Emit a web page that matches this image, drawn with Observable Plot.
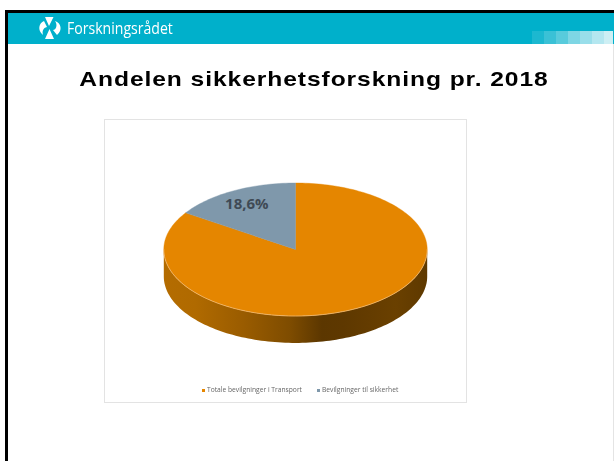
<!DOCTYPE html>
<html lang="no">
<head>
<meta charset="utf-8">
<script src="https://cdn.jsdelivr.net/npm/d3@7"></script>
<script src="https://cdn.jsdelivr.net/npm/@observablehq/plot@0.6"></script>
<style>
html,body{margin:0;padding:0;background:#fff;overflow:hidden}
#page{position:relative;width:614px;height:461px;overflow:hidden;background:#fff}
#frameTop{position:absolute;left:5px;top:10px;right:0;height:3px;background:#000}
#frameLeft{position:absolute;left:5px;top:10px;width:2.5px;bottom:0;background:#000}
#frameRight{position:absolute;left:613px;top:44px;width:1px;bottom:0;background:#e4e4e4}
#band{position:absolute;left:7.5px;top:13px;right:0;height:31px;background:#00B0CB}
.sq{position:absolute;top:31px;height:13px;width:12px}
#brand{position:absolute;left:67px;top:17px;font:15.5px/22px "Open Sans",sans-serif;color:#fff;transform-origin:0 50%;transform:scaleX(.908);white-space:nowrap}
#logo{position:absolute;left:38px;top:17px;overflow:visible}
#title{position:absolute;left:13.5px;width:600px;top:64px;text-align:center;font:bold 20.5px/30px "Liberation Sans",Arial,sans-serif;letter-spacing:.77px;color:#000;white-space:nowrap;transform:scaleX(1.2);transform-origin:50% 50%}
#card{position:absolute;left:104px;top:119px;width:361px;height:282px;border:1px solid #e3e3e3;box-sizing:content-box}
#chart{position:absolute;left:0;top:0}
.leg{position:absolute;top:386px;font:6.7px/8px "Open Sans",sans-serif;color:#666;white-space:nowrap;filter:blur(.25px)}
.mk{position:absolute;top:389px;width:2.5px;height:2.5px}
</style>
</head>
<body>
<div id="page">
  <div id="frameTop"></div><div id="frameLeft"></div><div id="frameRight"></div><div id="band"></div>
  <div class="sq" style="left:532px;background:#1CB8D0"></div>
  <div class="sq" style="left:544px;background:#3AC1D6"></div>
  <div class="sq" style="left:556px;background:#58CBDC"></div>
  <div class="sq" style="left:568px;background:#7ED6E4"></div>
  <div class="sq" style="left:580px;background:#99DEEA"></div>
  <div class="sq" style="left:592px;background:#B4E7F0"></div>
  <div class="sq" style="left:604px;width:9px;background:#CDEFF4"></div>
  <svg id="logo" width="24" height="22" viewBox="0 0 24 22">
    <path d="M7 0H15.5L11 9Z M7 22H16L11.5 12Z" fill="#fff"/>
    <path d="M6 4C1 6 -1 13 5 18C4 14 5 11 9 10Z M17 4C23 6 25 13 19 18L15 13C18 13 20 8 17 4Z" fill="#fff"/>
  </svg>
  <div id="brand">Forskningsrådet</div>
  <div id="title">Andelen sikkerhetsforskning pr. 2018</div>
  <div id="card"></div>
  <div id="chart"></div>
  <div class="mk" style="left:202px;background:#E58600"></div>
  <div class="leg" style="left:207px">Totale bevilgninger i Transport</div>
  <div class="mk" style="left:317px;background:#7F98AB"></div>
  <div class="leg" style="left:322px">Bevilgninger til sikkerhet</div>
</div>
<script>
// Data
const categories = ["Totale bevilgninger i Transport", "Bevilgninger til sikkerhet"];
const drawnShares = [84.3, 15.7];          // share as drawn in the slice geometry
const sliceLabels = [null, "18,6%"];
const sliceColors = ["#E58600", "#7F98AB"];

// Pie layout: starts at 12 o'clock, first slice runs clockwise
const arcs = d3.pie().sort(null)(drawnShares);
const unitPoint = (a, r = 1) => ({x: r * Math.sin(a), y: r * Math.cos(a)});
const depth = 0.405; // wall height of the pie, in radii of the flattened ellipse

function sector(arc, i) {
  const n = Math.max(2, Math.ceil((arc.endAngle - arc.startAngle) * 40));
  const pts = [{x: 0, y: 0, i}];
  for (let k = 0; k <= n; k++) {
    const a = arc.startAngle + (arc.endAngle - arc.startAngle) * k / n;
    pts.push({...unitPoint(a), i});
  }
  pts.push({x: 0, y: 0, i});
  return pts;
}
const topFaces = arcs.flatMap(sector);

// Visible outer wall: lower half of the rim, from right to left
const wall = [];
const nWall = 120;
for (let k = 0; k <= nWall; k++) wall.push(unitPoint(Math.PI / 2 + Math.PI * k / nWall));
for (let k = nWall; k >= 0; k--) {
  const p = unitPoint(Math.PI / 2 + Math.PI * k / nWall);
  wall.push({x: p.x, y: p.y - depth});
}
const rim = [];
for (let k = 0; k <= nWall; k++) rim.push(unitPoint(Math.PI / 2 + Math.PI * k / nWall));

const labelled = arcs.map((arc, i) => ({arc, i})).filter(d => sliceLabels[d.i]).map(d => {
  const mid = (d.arc.startAngle + d.arc.endAngle) / 2;
  return {...unitPoint(mid, 0.78), text: sliceLabels[d.i]};
});

const defs = () => {
  const s = d3.create("svg:defs");
  const g = s.append("linearGradient").attr("id", "wallGrad").attr("x1", 0).attr("x2", 1).attr("y1", 0).attr("y2", 0);
  [[0, "#B46C00"], [.12, "#B06A00"], [.3, "#9A5C00"], [.48, "#7E4C00"], [.6, "#5C3700"], [.68, "#5E3800"], [.88, "#6A4000"], [1, "#5E3900"]]
    .forEach(([o, c]) => g.append("stop").attr("offset", o).attr("stop-color", c));
  return s.node();
};

const rx = 131.7, ry = 66.5, cx = 295, cy = 249;
const chart = Plot.plot({
  width: 614, height: 461,
  margin: 0,
  x: {domain: [(0 - cx) / rx, (614 - cx) / rx], range: [0, 614], axis: null},
  y: {domain: [(cy - 461) / ry, cy / ry], range: [461, 0], axis: null},
  style: {background: "transparent"},
  marks: [
    defs,
    Plot.line(wall, {x: "x", y: "y", fill: "url(#wallGrad)", stroke: "none", curve: "linear"}),
    Plot.line(topFaces, {x: "x", y: "y", z: "i", fill: d => sliceColors[d.i], stroke: d => sliceColors[d.i], strokeWidth: 0.4, curve: "linear"}),
    Plot.line(rim, {x: "x", y: "y", stroke: "#F2BE7E", strokeWidth: 0.7, curve: "linear"}),
    Plot.text(labelled, {x: "x", y: "y", text: "text", fill: "#3F4A55", fontSize: 15, fontWeight: 700, fontFamily: "Open Sans"})
  ]
});
document.getElementById("chart").append(chart);
</script>
</body>
</html>
